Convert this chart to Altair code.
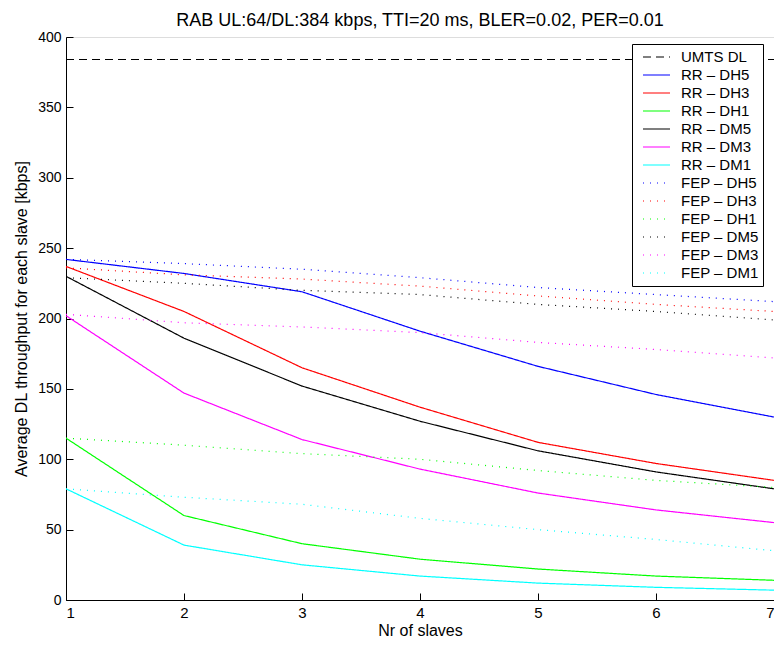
import altair as alt
import pandas as pd

slaves = [1, 2, 3, 4, 5, 6, 7]
y_ticks = [0, 50, 100, 150, 200, 250, 300, 350, 400]

series_names = [
    "UMTS DL",
    "RR – DH5", "RR – DH3", "RR – DH1", "RR – DM5", "RR – DM3", "RR – DM1",
    "FEP – DH5", "FEP – DH3", "FEP – DH1", "FEP – DM5", "FEP – DM3", "FEP – DM1",
]

umts_dl = [384, 384, 384, 384, 384, 384, 384]
rr_dh5 = [242, 232, 219, 191, 166, 146, 130]
rr_dh3 = [237, 205, 165, 137, 112, 97, 85]
rr_dh1 = [115, 60, 40, 29, 22, 17, 14]
rr_dm5 = [230, 186, 152, 127, 106, 91, 79]
rr_dm3 = [202, 147, 114, 93, 76, 64, 55]
rr_dm1 = [79, 39, 25, 17, 12, 9, 7]
fep_dh5 = [242, 239, 235, 229, 222, 217, 212]
fep_dh3 = [236, 231, 228, 223, 216, 210, 205]
fep_dh1 = [115, 110, 104, 100, 92, 85, 80]
fep_dm5 = [229, 225, 220, 217, 210, 205, 199]
fep_dm3 = [203, 197, 194, 190, 183, 178, 172]
fep_dm1 = [79, 73, 68, 58, 50, 43, 35]

all_series = [umts_dl, rr_dh5, rr_dh3, rr_dh1, rr_dm5, rr_dm3, rr_dm1,
              fep_dh5, fep_dh3, fep_dh1, fep_dm5, fep_dm3, fep_dm1]

colors = ["#000000",
          "#0000ff", "#ff0000", "#00ff00", "#000000", "#ff00ff", "#00ffff",
          "#0000ff", "#ff0000", "#00ff00", "#000000", "#ff00ff", "#00ffff"]
dashes = [[8, 5]] + [[1, 0]] * 6 + [[1, 6]] * 6

rows = []
for name, vals in zip(series_names, all_series):
    for x, v in zip(slaves, vals):
        rows.append({"x": x, "value": v, "series": name})
df = pd.DataFrame(rows)

FONT = "Liberation Sans"

legend = alt.Legend(
    title=None, orient="none", legendX=566, legendY=7,
    strokeColor="black", fillColor="white", padding=4,
    symbolType="stroke", symbolSize=729, symbolStrokeWidth=1.2,
    symbolOffset=6, labelOffset=10, clipHeight=18, rowPadding=0,
    labelFont=FONT, labelFontSize=15, labelColor="black",
)

xscale = alt.Scale(domain=[1, 7], nice=False, zero=False)
yscale = alt.Scale(domain=[0, 400], nice=False)

base = alt.Chart(df)

lines = base.mark_line(strokeWidth=1.2, clip=True).encode(
    x=alt.X("x:Q", scale=xscale, axis=alt.Axis(
        values=slaves, format="d", title="Nr of slaves", ticks=False, grid=False,
        domainColor="black", labelColor="black", titleColor="black",
        labelFont=FONT, labelFontSize=15, titleFont=FONT, titleFontSize=16,
        titleFontWeight="normal", labelPadding=5, titlePadding=2)),
    y=alt.Y("value:Q", scale=yscale, axis=alt.Axis(
        values=y_ticks, title="Average DL throughput for each slave [kbps]",
        ticks=False, grid=False, domainColor="black", labelColor="black",
        titleColor="black", labelFont=FONT, labelFontSize=14, titleFont=FONT,
        titleFontSize=16, titleFontWeight="normal", labelPadding=5, titlePadding=8)),
    color=alt.Color("series:N", scale=alt.Scale(domain=series_names, range=colors), legend=legend),
    strokeDash=alt.StrokeDash("series:N", scale=alt.Scale(domain=series_names, range=dashes), legend=legend),
    order=alt.Order("x:Q"),
)

ticks = base.mark_line(opacity=0).encode(
    x=alt.X("x:Q", scale=xscale, axis=alt.Axis(
        orient="top", offset=-563, values=slaves, labels=False, domain=False,
        ticks=True, tickSize=7, tickColor="black", grid=False, title=None)),
    y=alt.Y("value:Q", scale=yscale, axis=alt.Axis(
        orient="right", offset=-708, values=y_ticks, labels=False, domain=False,
        ticks=True, tickSize=7, tickColor="black", grid=False, title=None)),
    detail="series:N",
)

chart = alt.layer(lines, ticks).resolve_axis(x="independent", y="independent").properties(
    width=708, height=563,
    autosize=alt.AutoSizeParams(type="none"),
    padding={"left": 58, "top": 29, "right": 0, "bottom": 38},
    title=alt.TitleParams(
        "RAB UL:64/DL:384 kbps, TTI=20 ms, BLER=0.02, PER=0.01",
        font=FONT, fontSize=18, fontWeight="normal", color="black",
        anchor="middle", offset=0),
).configure_view(stroke=None).configure(background="white")

chart.save("out.html", embed_options={"renderer": "svg", "actions": False})
